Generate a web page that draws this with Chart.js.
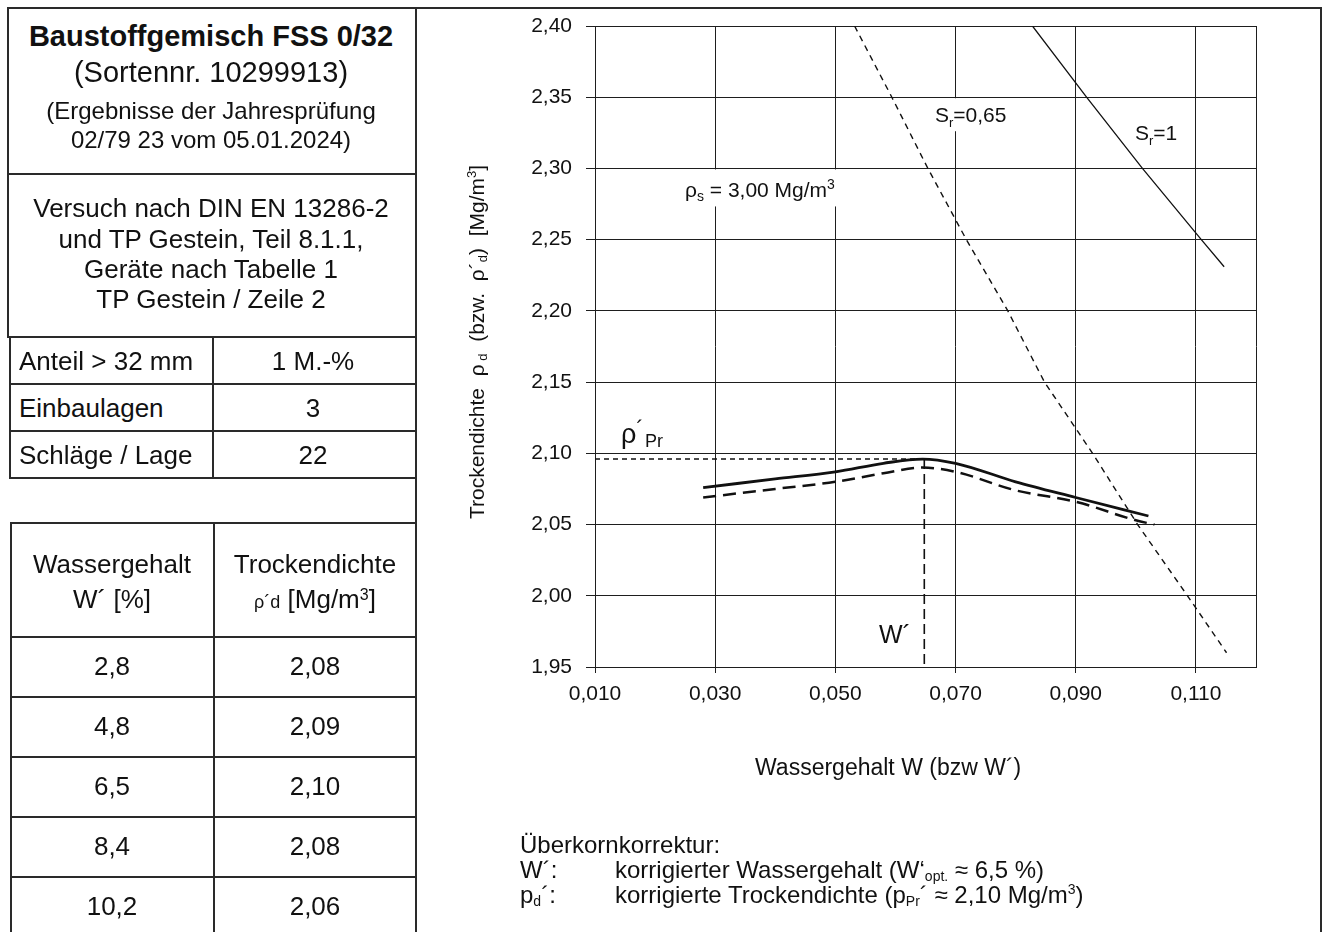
<!DOCTYPE html>
<html>
<head>
<meta charset="utf-8">
<script src="https://cdn.jsdelivr.net/npm/chart.js@4.4.1/dist/chart.umd.min.js"></script>
<style>
html, body { margin: 0; padding: 0; background: #fff; }
body { width: 1325px; height: 932px; position: relative; overflow: hidden;
       font-family: "Liberation Sans", Arial, sans-serif; color: #111; }
.ln { position: absolute; background: #2a2a2a; }
.t { position: absolute; white-space: nowrap; }
.sub { font-size: 14px; position: relative; top: 3px; }
.sup { font-size: 14px; position: relative; top: -9px; }
#wrap { position: absolute; left: 416px; top: 9px; width: 904px; height: 923px; }
</style>
</head>
<body>
<div id="wrap"><canvas id="c" width="904" height="923"></canvas></div>
<script>
// Proctor-Kurven
const proctorW   = [0.028, 0.040, 0.050, 0.058, 0.0645, 0.070, 0.080, 0.090, 0.1021];
const proctorRho = [2.076, 2.082, 2.087, 2.093, 2.096, 2.093, 2.080, 2.069, 2.056];
const corrW      = [0.028, 0.040, 0.050, 0.058, 0.0645, 0.070, 0.080, 0.090, 0.1000, 0.1031];
const corrRho    = [2.069, 2.075, 2.080, 2.086, 2.090, 2.087, 2.074, 2.066, 2.053, 2.050];

// Sättigungslinien
const sr065W   = [0.0532, 0.0594, 0.0654, 0.0718, 0.0787, 0.0848, 0.0928, 0.1003, 0.1086, 0.1151];
const sr065Rho = [2.40, 2.35, 2.30, 2.25, 2.20, 2.15, 2.10, 2.05, 2.00, 1.960];
const sr1W     = [0.0828, 0.0918, 0.1011, 0.1109, 0.1147];
const sr1Rho   = [2.40, 2.35, 2.30, 2.25, 2.231];

// Optimum
const wOpt = 0.0648;
const rhoPr = 2.096;

const xTickLabels = ['0,010', '0,030', '0,050', '0,070', '0,090', '0,110'];
const yTickLabels = ['1,95', '2,00', '2,05', '2,10', '2,15', '2,20', '2,25', '2,30', '2,35', '2,40'];

// Tabelle
const tableW   = ['2,8', '4,8', '6,5', '8,4', '10,2'];
const tableRho = ['2,08', '2,09', '2,10', '2,08', '2,06'];

const num = s => parseFloat(s.replace(',', '.'));
const pts = (xs, ys) => xs.map((x, i) => ({ x: x, y: ys[i] }));

// --- Rahmen und Tabellen (HTML) ---
function hline(x1, x2, y) {
  const d = document.createElement('div');
  d.className = 'ln';
  d.style.cssText = `left:${x1}px;top:${y}px;width:${x2 - x1}px;height:1.5px`;
  document.body.appendChild(d);
}
function vline(x, y1, y2) {
  const d = document.createElement('div');
  d.className = 'ln';
  d.style.cssText = `left:${x}px;top:${y1}px;width:1.5px;height:${y2 - y1}px`;
  document.body.appendChild(d);
}
function txt(html, x, base, size, opt) {
  opt = opt || {};
  const d = document.createElement('div');
  d.className = 't';
  d.innerHTML = html;
  let css = `top:${base - 0.8465 * size}px;font-size:${size}px;line-height:${size}px;`;
  if (opt.center) css += `left:${x - 200}px;width:400px;text-align:center;`;
  else css += `left:${x}px;`;
  if (opt.bold) css += 'font-weight:bold;';
  d.style.cssText = css;
  document.body.appendChild(d);
}

hline(7, 1321, 7);
vline(7, 7, 337);
vline(415, 7, 932);
vline(1320, 7, 932);
hline(7, 416, 173);
hline(7, 416, 336);
vline(9, 336, 478);
vline(212, 336, 478);
[383, 430, 477].forEach(y => hline(9, 416, y));

txt('Baustoffgemisch FSS 0/32', 211, 47, 29, { center: true, bold: true });
txt('(Sortennr. 10299913)', 211, 83, 29, { center: true });
txt('(Ergebnisse der Jahresprüfung', 211, 119, 24, { center: true });
txt('02/79 23 vom 05.01.2024)', 211, 148, 24, { center: true });

txt('Versuch nach DIN EN 13286-2', 211, 217, 26, { center: true });
txt('und TP Gestein, Teil 8.1.1,', 211, 248, 26, { center: true });
txt('Geräte nach Tabelle 1', 211, 278, 26, { center: true });
txt('TP Gestein / Zeile 2', 211, 308, 26, { center: true });

const infoLabels = ['Anteil &gt; 32 mm', 'Einbaulagen', 'Schläge / Lage'];
const infoValues = ['1 M.-%', '3', '22'];
infoLabels.forEach((l, i) => {
  txt(l, 19, 370 + i * 47, 26);
  txt(infoValues[i], 313, 370 + i * 47, 26, { center: true });
});

hline(10, 416, 522);
vline(10, 522, 932);
vline(213, 522, 932);
[636, 696, 756, 816, 876].forEach(y => hline(10, 416, y));
txt('Wassergehalt', 112, 573, 26, { center: true });
txt('W´ [%]', 112, 608, 26, { center: true });
txt('Trockendichte', 315, 573, 26, { center: true });
txt('<span style="font-size:18px">ρ´d</span> [Mg/m<span class="sup" style="top:-8px;font-size:16px">3</span>]', 315, 608, 26, { center: true });
tableW.forEach((w, i) => {
  txt(w, 112, 675 + i * 60, 26, { center: true });
  txt(tableRho[i], 315, 675 + i * 60, 26, { center: true });
});

// Fußnote
txt('Überkornkorrektur:', 520, 853, 24);
txt('W´:', 520, 878, 24);
txt('korrigierter Wassergehalt (W‘<span class="sub">opt.</span> ≈ 6,5 %)', 615, 878, 24);
txt('p<span class="sub">d</span>´:', 520, 903, 24);
txt('korrigierte Trockendichte (p<span class="sub">Pr</span>´ ≈ 2,10 Mg/m<span class="sup">3</span>)', 615, 903, 24);

// --- Diagramm ---
const OX = 416, OY = 9;
const FONT = '"Liberation Sans", Arial, sans-serif';

function rich(ctx, segs, x, y, align) {
  let total = 0;
  segs.forEach(s => { ctx.font = `${s[1]}px ${FONT}`; total += ctx.measureText(s[0]).width; });
  if (align === 'center') x -= total / 2;
  segs.forEach(s => {
    ctx.font = `${s[1]}px ${FONT}`;
    ctx.fillText(s[0], x, y + (s[2] || 0));
    x += ctx.measureText(s[0]).width;
  });
}

const labelPlugin = {
  id: 'labels',
  afterDraw(chart) {
    const ctx = chart.ctx;
    const ys = chart.scales.y;
    ctx.save();
    ctx.fillStyle = '#fff';
    // Aussparungen im Gitter hinter den Beschriftungen
    ctx.fillRect(680 - OX, ys.getPixelForValue(2.30) + 1, 166, 37);
    ctx.fillRect(930 - OX, ys.getPixelForValue(2.35) + 1, 82, 33);
    ctx.fillStyle = '#111';
    ctx.textBaseline = 'alphabetic';
    ctx.textAlign = 'left';
    rich(ctx, [['ρ', 21], ['s', 14, 4], [' = 3,00 Mg/m', 21], ['3', 14, -8]], 685 - OX, 197 - OY);
    rich(ctx, [['S', 21], ['r', 13, 5], ['=0,65', 21]], 935 - OX, 122 - OY);
    rich(ctx, [['S', 21], ['r', 13, 5], ['=1', 21]], 1135 - OX, 140 - OY);
    rich(ctx, [['ρ', 27], ['´', 22, -7], [' ', 5], ['Pr', 18, 4]], 621 - OX, 443 - OY);
    rich(ctx, [['W´', 25]], 879 - OX, 643 - OY);
    rich(ctx, [['Wassergehalt W (bzw W´)', 23]], 755 - OX, 775 - OY);
    // Achsentitel y
    ctx.translate(484 - OX, 342 - OY);
    ctx.rotate(-Math.PI / 2);
    rich(ctx, [['Trockendichte  ρ', 21], [' d', 13, 3], ['  (bzw.  ρ´', 21], ['d', 13, 3],
               [')  [Mg/m', 21], ['3', 13, -8], [']', 21]], 0, 0, 'center');
    ctx.restore();
  }
};

const gridCol = '#1e1e1e';
const noPad = s => { s.paddingTop = 0; s.paddingBottom = 0; s.paddingLeft = 0; s.paddingRight = 0; };

new Chart(document.getElementById('c'), {
  type: 'line',
  data: {
    datasets: [
      { data: pts(proctorW, proctorRho), borderWidth: 2.8, cubicInterpolationMode: 'monotone' },
      { data: pts(corrW, corrRho), borderWidth: 2.5, borderDash: [13, 7], cubicInterpolationMode: 'monotone' },
      { data: pts(sr065W, sr065Rho), borderWidth: 1.4, borderDash: [6, 5] },
      { data: pts(sr1W, sr1Rho), borderWidth: 1.3 },
      { data: [{ x: num(xTickLabels[0]), y: rhoPr }, { x: wOpt, y: rhoPr }], borderWidth: 1.5, borderDash: [5, 4] },
      { data: [{ x: wOpt, y: rhoPr }, { x: wOpt, y: num(yTickLabels[0]) }], borderWidth: 1.6, borderDash: [10, 5] }
    ]
  },
  options: {
    responsive: false,
    devicePixelRatio: 1,
    animation: false,
    layout: { padding: { top: 17, right: 64, left: 0, bottom: 0 } },
    elements: {
      point: { radius: 0 },
      line: { borderColor: '#111', fill: false, tension: 0, borderCapStyle: 'butt' }
    },
    plugins: { legend: { display: false }, tooltip: { enabled: false } },
    scales: {
      x: {
        type: 'linear',
        min: 0.010,
        max: 0.120,
        afterBuildTicks: s => {
          s.ticks = xTickLabels.map(l => ({ value: num(l) })).concat([{ value: 0.120 }]);
        },
        afterFit: s => { s.height = 265; noPad(s); },
        ticks: {
          callback: (v, i) => xTickLabels[i] || '',
          color: '#111', padding: 9, maxRotation: 0, autoSkip: false,
          font: { family: FONT, size: 21 }
        },
        grid: {
          color: gridCol, lineWidth: 1, tickLength: 6,
          tickColor: c => (c.tick && c.tick.value > 0.119) ? 'rgba(0,0,0,0)' : gridCol
        },
        border: { color: gridCol, width: 1 }
      },
      y: {
        type: 'linear',
        min: num(yTickLabels[0]),
        max: num(yTickLabels[yTickLabels.length - 1]),
        afterBuildTicks: s => { s.ticks = yTickLabels.map(l => ({ value: num(l) })); },
        afterFit: s => { s.width = 179; noPad(s); },
        ticks: {
          callback: (v, i) => yTickLabels[i],
          color: '#111', padding: 14, autoSkip: false,
          font: { family: FONT, size: 21 }
        },
        grid: { color: gridCol, lineWidth: 1, tickLength: 9 },
        border: { color: gridCol, width: 1 }
      }
    }
  },
  plugins: [labelPlugin]
});
</script>
</body>
</html>
